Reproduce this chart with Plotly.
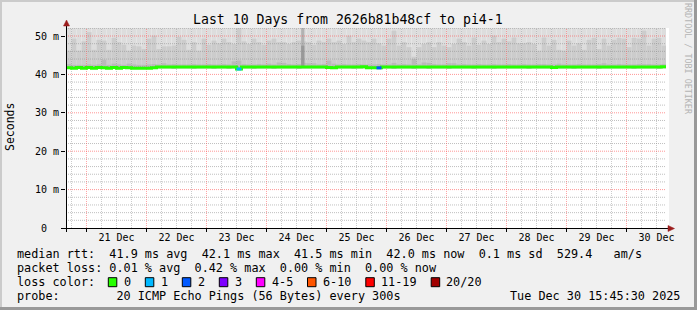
import pandas as pd
import plotly.graph_objects as go

# ---------------- data ----------------
range_start = "2025-12-20 15:48:00"
range_end = "2025-12-30 15:48:00"
bin_start = "2025-12-20 16:00:00"
bin_hours = 2

# median rtt per 2h bin (ms)
median_ms = [
    41.7, 41.6, 41.8, 41.6, 41.8, 41.6, 41.8, 41.7, 41.6, 41.8,
    41.6, 41.8, 41.7, 41.6, 41.6, 41.6, 41.6, 41.7, 41.9, 41.9,
    41.9, 41.9, 41.9, 41.9, 41.9, 41.9, 41.9, 41.9, 41.9, 41.9,
    41.9, 41.9, 41.9, 41.9, 41.4, 41.9, 41.9, 41.9, 41.9, 41.9,
    41.9, 41.9, 41.9, 41.9, 41.9, 41.9, 41.9, 41.9, 41.9, 41.9,
    41.9, 41.9, 41.8, 41.7, 41.9, 41.9, 41.9, 41.9, 41.9, 42.0,
    41.7, 41.7, 41.7, 41.9, 41.9, 41.9, 41.9, 41.9, 41.9, 41.9,
    41.9, 41.9, 41.9, 41.9, 41.9, 41.9, 41.9, 41.9, 41.9, 41.9,
    41.9, 41.9, 41.9, 41.9, 41.9, 41.9, 41.9, 41.9, 41.9, 41.9,
    41.9, 41.9, 41.9, 41.9, 41.9, 41.9, 41.9, 41.8, 41.9, 41.9,
    41.9, 41.9, 41.9, 41.9, 41.9, 41.9, 41.9, 41.9, 41.9, 41.9,
    41.9, 41.9, 41.9, 41.9, 41.9, 41.9, 41.9, 41.9, 41.9, 42.0,
]
# lost pings (of 20) per bin
loss_pings = [
    0, 0, 0, 0, 0, 0, 0, 0, 0, 0,
    0, 0, 0, 0, 0, 0, 0, 0, 0, 0,
    0, 0, 0, 0, 0, 0, 0, 0, 0, 0,
    0, 0, 0, 0, 1, 0, 0, 0, 0, 0,
    0, 0, 0, 0, 0, 0, 0, 0, 0, 0,
    0, 0, 0, 0, 0, 0, 0, 0, 0, 0,
    0, 0, 2, 0, 0, 0, 0, 0, 0, 0,
    0, 0, 0, 0, 0, 0, 0, 0, 0, 0,
    0, 0, 0, 0, 0, 0, 0, 0, 0, 0,
    0, 0, 0, 0, 0, 0, 0, 0, 0, 0,
    0, 0, 0, 0, 0, 0, 0, 0, 0, 0,
    0, 0, 0, 0, 0, 0, 0, 0, 0, 0,
]
# smoke: lowest ping, inner band top, middle band top, highest ping (ms)
smoke_min = [
    41.5, 41.4, 41.5, 41.4, 41.5, 41.4, 41.5, 41.5, 41.4, 41.5,
    41.4, 41.5, 41.5, 41.4, 41.4, 41.4, 41.4, 41.4, 41.6, 41.6,
    41.6, 41.5, 41.6, 41.6, 41.6, 41.5, 41.6, 41.6, 41.6, 41.5,
    41.6, 41.6, 41.5, 41.6, 41.2, 41.6, 41.6, 41.5, 41.6, 41.6,
    41.6, 41.5, 41.6, 41.6, 41.6, 41.6, 41.5, 41.6, 41.6, 41.6,
    41.6, 41.6, 41.5, 41.5, 41.6, 41.6, 41.6, 41.5, 41.6, 41.6,
    41.4, 41.4, 41.4, 41.6, 41.6, 41.5, 41.6, 41.6, 41.6, 41.5,
    41.6, 41.6, 41.5, 41.6, 41.6, 41.6, 41.5, 41.6, 41.6, 41.6,
    41.6, 41.5, 41.6, 41.6, 41.6, 41.5, 41.6, 41.6, 41.6, 41.6,
    41.6, 41.6, 41.5, 41.6, 41.6, 41.6, 41.6, 41.5, 41.6, 41.6,
    41.6, 41.5, 41.6, 41.6, 41.6, 41.6, 41.5, 41.6, 41.6, 41.6,
    41.6, 41.6, 41.6, 41.5, 41.6, 41.6, 41.6, 41.6, 41.5, 41.6,
]
smoke_low = [
    42.7, 42.5, 42.5, 42.5, 42.6, 42.5, 42.6, 43.8, 42.5, 42.8,
    42.6, 42.5, 42.8, 42.6, 42.5, 42.5, 42.6, 42.7, 42.6, 42.9,
    42.6, 42.7, 42.6, 42.6, 42.6, 42.7, 42.6, 42.6, 42.7, 42.6,
    42.6, 42.7, 42.6, 43.4, 43.6, 42.7, 42.6, 42.6, 42.7, 42.6,
    42.8, 42.6, 43.1, 43.0, 42.7, 42.6, 42.7, 43.0, 42.9, 42.9,
    42.6, 42.7, 43.6, 42.8, 42.6, 42.7, 42.6, 42.6, 42.7, 42.6,
    42.6, 42.6, 42.7, 42.6, 42.6, 43.0, 42.6, 42.7, 42.6, 44.0,
    42.6, 43.1, 43.0, 42.7, 42.6, 42.6, 42.9, 42.9, 42.6, 42.7,
    42.6, 42.6, 42.7, 42.6, 42.6, 42.7, 42.6, 42.6, 42.7, 42.6,
    42.6, 42.7, 42.6, 42.6, 42.7, 42.7, 42.6, 42.6, 42.8, 42.6,
    42.6, 42.6, 42.7, 42.6, 42.6, 42.6, 42.7, 42.9, 42.6, 42.6,
    42.7, 42.6, 42.6, 42.6, 42.7, 42.7, 42.7, 42.6, 42.6, 42.7,
]
smoke_mid = [
    46.2, 49.3, 46.2, 48.6, 51.0, 46.4, 49.0, 48.8, 46.4, 49.5,
    48.4, 47.7, 46.2, 47.5, 47.3, 46.6, 49.3, 50.1, 46.6, 47.3,
    47.3, 47.5, 49.8, 49.0, 46.4, 48.4, 46.2, 49.3, 47.7, 48.8,
    48.1, 49.3, 48.4, 47.9, 53.0, 48.6, 47.9, 49.3, 48.4, 47.7,
    48.8, 49.3, 48.4, 48.4, 47.9, 48.4, 48.8, 48.6, 48.4, 47.7,
    48.8, 48.4, 49.3, 48.4, 48.8, 47.9, 50.1, 48.4, 49.3, 48.8,
    48.4, 49.3, 48.1, 47.5, 49.3, 51.4, 47.5, 48.4, 47.1, 44.6,
    47.1, 47.9, 48.4, 47.1, 48.4, 47.5, 47.1, 47.9, 49.3, 48.4,
    47.5, 49.6, 47.7, 48.8, 47.9, 50.1, 48.4, 49.3, 48.6, 49.6,
    48.1, 48.1, 48.4, 47.9, 46.2, 49.6, 47.5, 49.0, 46.4, 46.2,
    48.8, 47.5, 48.1, 46.4, 49.0, 49.5, 46.6, 49.3, 47.5, 49.0,
    49.5, 49.3, 47.1, 49.5, 49.3, 51.4, 47.5, 49.3, 49.5, 47.5,
]
smoke_max = [
    58.2, 61.4, 55.9, 63.0, 66.1, 57.3, 60.8, 62.5, 56.7, 59.9,
    60.3, 57.8, 55.4, 58.9, 57.1, 56.2, 61.7, 64.0, 56.8, 58.5,
    57.6, 58.8, 62.9, 60.1, 56.3, 59.4, 55.8, 61.2, 58.0, 60.6,
    59.1, 61.0, 59.7, 58.4, 68.2, 59.6, 58.7, 61.3, 59.2, 58.1,
    60.4, 61.1, 59.8, 59.5, 58.6, 59.9, 60.2, 70.5, 59.3, 58.2,
    60.0, 59.4, 61.5, 59.7, 60.1, 58.5, 62.6, 59.0, 61.4, 60.3,
    59.6, 61.2, 58.9, 58.3, 61.0, 64.8, 58.1, 59.8, 57.6, 54.9,
    57.9, 58.6, 59.5, 57.7, 59.9, 58.4, 57.5, 58.8, 61.1, 59.3,
    58.2, 61.8, 58.6, 60.4, 58.9, 62.7, 59.6, 61.3, 59.9, 61.6,
    59.0, 58.8, 59.4, 58.7, 56.4, 61.5, 58.3, 60.6, 56.9, 56.5,
    60.2, 58.1, 59.2, 56.8, 60.5, 61.2, 57.4, 61.0, 58.3, 60.4,
    61.3, 61.0, 57.8, 61.4, 61.1, 65.3, 58.2, 61.0, 61.5, 58.4,
]
# a short burst of slow pings
spike_times = ["2025-12-24 14:30:00"]
spike_top = [58.0]
spike_core = [47.5]

day_midnights = ["2025-12-21", "2025-12-22", "2025-12-23", "2025-12-24", "2025-12-25",
                 "2025-12-26", "2025-12-27", "2025-12-28", "2025-12-29", "2025-12-30"]
day_labels = ["21 Dec", "22 Dec", "23 Dec", "24 Dec", "25 Dec",
              "26 Dec", "27 Dec", "28 Dec", "29 Dec", "30 Dec"]
y_tick_vals = [0, 10, 20, 30, 40, 50]
y_tick_text = ["0  ", "10 m", "20 m", "30 m", "40 m", "50 m"]
y_minor_vals = [2, 4, 6, 8, 12, 14, 16, 18, 22, 24, 26, 28, 32, 34, 36, 38,
                42, 44, 46, 48, 52]

loss_legend_labels = ["0", "1", "2", "3", "4-5", "6-10", "11-19", "20/20"]
loss_legend_max = [0, 1, 2, 3, 5, 10, 19, 20]
loss_legend_colors = ["#26ff00", "#00b8ff", "#0059ff", "#7e00ff",
                      "#ff00ff", "#ff5500", "#ff0000", "#a10000"]

title_text = "Last 10 Days from 2626b81b48cf to pi4-1"
legend_rtt = "median rtt:  41.9 ms avg  42.1 ms max  41.5 ms min  42.0 ms now  0.1 ms sd  529.4   am/s"
legend_loss = "packet loss: 0.01 % avg  0.42 % max  0.00 % min  0.00 % now"
legend_color_head = "loss color:"
legend_probe = "probe:        20 ICMP Echo Pings (56 Bytes) every 300s"
legend_date = "Tue Dec 30 15:45:30 2025"
watermark = "RRDTOOL / TOBI OETIKER"
y_title = "Seconds"

# ---------------- layout helpers ----------------
W, H = 697, 310
L, R, T, B = 66, 31, 28, 82
PW, PH = W - L - R, H - T - B
Y_TOP = 52.083
MONO = "DejaVu Sans Mono"
NB = "\u00a0"


def px(x):
    return (x - L) / PW


def py(y):
    return (H - B - y) / PH


def nb(s):
    return s.replace(" ", NB)


edges = pd.date_range(bin_start, periods=len(median_ms) + 1, freq=f"{bin_hours}h")
centers = edges[:-1] + pd.Timedelta(hours=bin_hours / 2)
bin_ms = bin_hours * 3600 * 1000

fig = go.Figure()


def band(lo, hi, color, xs=centers, width=bin_ms):
    return go.Bar(x=xs, y=[h - l for l, h in zip(lo, hi)], base=lo, width=width,
                  marker=dict(color=color, line=dict(width=0)),
                  hoverinfo="skip", showlegend=False)


fig.add_trace(band(smoke_min, smoke_max, "#dddddd"))
fig.add_trace(band(smoke_min, smoke_mid, "#cccccc"))
fig.add_trace(band(smoke_min, smoke_low, "#bababa"))
fig.add_trace(band([42.0] * len(spike_times), spike_top, "#b2b2b2",
                   xs=pd.to_datetime(spike_times), width=3600 * 1000 * 1.3))
fig.add_trace(band([42.0] * len(spike_times), spike_core, "#999999",
                   xs=pd.to_datetime(spike_times), width=3600 * 1000 * 1.3))

# grid (drawn above smoke, below median)
mid_ts = pd.to_datetime(day_midnights)
six_h = pd.date_range("2025-12-20 18:00", "2025-12-30 12:00", freq="6h")
minor_ts = [t for t in six_h if t.hour != 0]


def vlines(ts):
    xs, ys = [], []
    for t in ts:
        xs += [t, t, None]
        ys += [0, Y_TOP, None]
    return xs, ys


def hlines(vals):
    xs, ys = [], []
    for v in vals:
        xs += [range_start, range_end, None]
        ys += [v, v, None]
    return xs, ys


GRID = "rgba(140,140,140,0.45)"
GRID_H = "rgba(140,140,140,0.55)"
MGRID = "rgba(255,80,80,0.5)"
MGRID_H = "rgba(255,80,80,0.6)"
for (xs, ys), col in [(vlines(minor_ts), GRID), (hlines(y_minor_vals), GRID_H),
                      (vlines(mid_ts), MGRID), (hlines(y_tick_vals[1:]), MGRID_H)]:
    fig.add_trace(go.Scatter(x=xs, y=ys, mode="lines", xaxis="x2",
                             line=dict(color=col, width=1, dash="1px,1px"),
                             hoverinfo="skip", showlegend=False))

# median line
fig.add_trace(go.Scatter(x=list(edges), y=median_ms + [median_ms[-1]], mode="lines",
                         xaxis="x2", line=dict(color=loss_legend_colors[0], width=3, shape="hv"),
                         hoverinfo="skip", showlegend=False))


def loss_color(n):
    for mx, c in zip(loss_legend_max, loss_legend_colors):
        if n <= mx:
            return c
    return loss_legend_colors[-1]


for i, n in enumerate(loss_pings):
    if n > 0:
        fig.add_trace(go.Scatter(x=[edges[i], edges[i + 1]], y=[median_ms[i], median_ms[i]],
                                 mode="lines", xaxis="x2",
                                 line=dict(color=loss_color(n), width=3),
                                 hoverinfo="skip", showlegend=False))

noon_ts = [t + pd.Timedelta(hours=12) for t in mid_ts]

fig.update_layout(
    width=W, height=H, margin=dict(l=L, r=R, t=T, b=B, pad=0),
    paper_bgcolor="#f0f0f0", plot_bgcolor="white",
    barmode="overlay", showlegend=False,
    font=dict(family=MONO, color="black"),
    xaxis=dict(type="date", range=[range_start, range_end], showgrid=False, zeroline=False,
               showline=False, tickvals=list(mid_ts), showticklabels=False,
               ticks="outside", ticklen=3, tickcolor="black", tickwidth=1),
    xaxis2=dict(type="date", overlaying="x", anchor="y", side="bottom",
                range=[range_start, range_end], showgrid=False, zeroline=False, showline=False,
                tickvals=noon_ts, ticktext=day_labels, ticks="",
                tickfont=dict(family=MONO, size=10, color="black"), ticklabelstandoff=2),
    yaxis=dict(range=[0, Y_TOP], tickvals=y_tick_vals, ticktext=[nb(s) for s in y_tick_text],
               showgrid=False, zeroline=False, showline=False,
               ticks="outside", ticklen=4, tickcolor="black", tickwidth=1,
               tickfont=dict(family=MONO, size=10, color="black")),
)

shapes = []
# 3D frame
shapes.append(dict(type="rect", xref="paper", yref="paper", x0=px(0), x1=px(W), y0=py(0), y1=py(2),
                   fillcolor="#cbcbcb", line=dict(width=0), layer="below"))
shapes.append(dict(type="rect", xref="paper", yref="paper", x0=px(0), x1=px(2), y0=py(0), y1=py(H),
                   fillcolor="#cbcbcb", line=dict(width=0), layer="below"))
shapes.append(dict(type="rect", xref="paper", yref="paper", x0=px(0), x1=px(W), y0=py(H - 3), y1=py(H),
                   fillcolor="#999999", line=dict(width=0), layer="below"))
shapes.append(dict(type="rect", xref="paper", yref="paper", x0=px(W - 3), x1=px(W), y0=py(0), y1=py(H),
                   fillcolor="#999999", line=dict(width=0), layer="below"))
# canvas extension right of data
shapes.append(dict(type="rect", xref="paper", yref="paper", x0=1, x1=px(669), y0=0, y1=1,
                   fillcolor="white", line=dict(width=0), layer="below"))
# axes lines
shapes.append(dict(type="line", xref="paper", yref="paper", x0=px(62), x1=px(669),
                   y0=py(228.5), y1=py(228.5), line=dict(color="black", width=1)))
shapes.append(dict(type="line", xref="paper", yref="paper", x0=px(66.5), x1=px(66.5),
                   y0=py(232), y1=py(25), line=dict(color="black", width=1)))
# arrow heads
ARROW = "#9b1c1c"
shapes.append(dict(type="path", xref="paper", yref="paper",
                   path=f"M {px(63.5)},{py(26)} L {px(69.5)},{py(26)} L {px(66.5)},{py(20)} Z",
                   fillcolor=ARROW, line=dict(color=ARROW, width=0.5)))
shapes.append(dict(type="path", xref="paper", yref="paper",
                   path=f"M {px(668)},{py(225.5)} L {px(668)},{py(231.5)} L {px(674.5)},{py(228.5)} Z",
                   fillcolor=ARROW, line=dict(color=ARROW, width=0.5)))

annotations = []


def txt(s, x, y, size, xanchor="left", color="black", angle=0):
    annotations.append(dict(text=nb(s), x=px(x), y=py(y), xref="paper", yref="paper",
                            xanchor=xanchor, yanchor="middle", showarrow=False, borderpad=0,
                            textangle=angle, font=dict(family=MONO, size=size, color=color)))


txt(title_text, 348, 19.5, 13.2, xanchor="center")
txt(y_title, 10, 127, 11.5, xanchor="center", angle=-90)
txt(watermark, 688, 59, 8.4, xanchor="center", color="#b4b4b4", angle=90)

LEG = 11.8
CW = 7.1
txt(legend_rtt, 15.6, 254.2, LEG)
txt(legend_loss, 15.6, 268.2, LEG)
txt(legend_color_head, 15.6, 282.2, LEG)
txt(legend_probe, 15.6, 296.2, LEG)
txt(legend_date, 680.5, 296.2, LEG, xanchor="right")

bx = 108.3
for lab, col in zip(loss_legend_labels, loss_legend_colors):
    shapes.append(dict(type="rect", xref="paper", yref="paper", x0=px(bx), x1=px(bx + 8.5),
                       y0=py(286.7), y1=py(277.7), fillcolor=col, line=dict(color="black", width=1)))
    lx = bx + 14.7
    txt(lab, lx - 0.4, 282.2, LEG)
    bx = lx + len(lab) * CW + 15.2

fig.update_layout(shapes=shapes, annotations=annotations)
fig.write_html("out.html")
